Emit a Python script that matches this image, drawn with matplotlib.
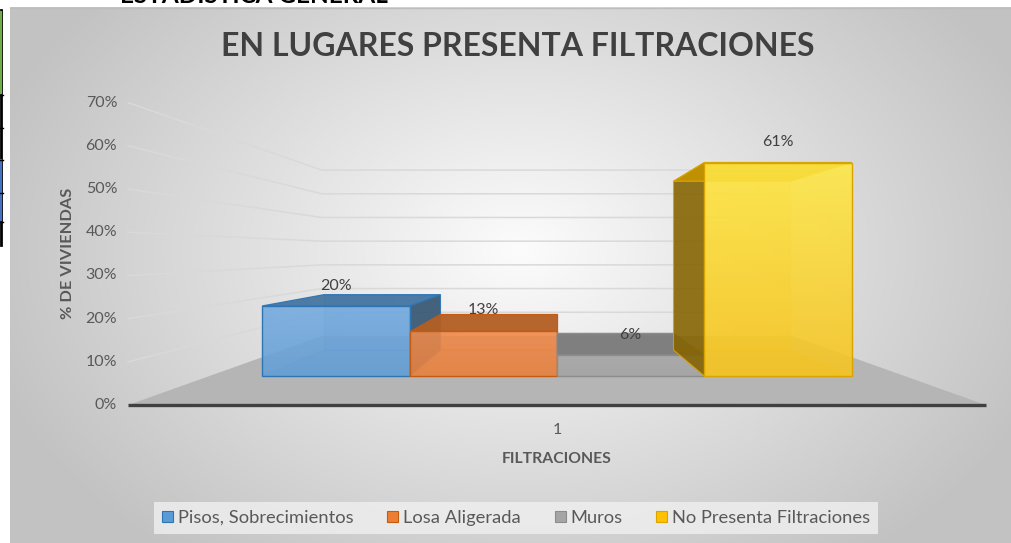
import numpy as np
import matplotlib
matplotlib.use("Agg")
import matplotlib.pyplot as plt
from matplotlib.patches import Polygon, Patch
from matplotlib.colors import to_rgb

# ---------------- data ----------------
title = "EN LUGARES PRESENTA FILTRACIONES"
header = "ESTADISTICA GENERAL"
series = ["Pisos, Sobrecimientos", "Losa Aligerada", "Muros", "No Presenta Filtraciones"]
values = [20, 13, 6, 61]          # % de viviendas
value_labels = ["20%", "13%", "6%", "61%"]
categories = ["1"]
y_ticks = [0, 10, 20, 30, 40, 50, 60, 70]
x_title = "FILTRACIONES"
y_title = "% DE VIVIENDAS"
colors = ["#5B9BD5", "#ED7D31", "#A5A5A5", "#FFC000"]
front_top = ["#73AADF", "#F08C4E", "#ABABAB", "#FFE845"]
front_bottom = ["#649FD6", "#E9823F", "#A5A5A5", "#F7C520"]
edge_colors = ["#2E75B6", "#C55A11", "#8C8C8C", "#D9A400"]

FONT = ["Lato", "DejaVu Sans"]
plt.rcParams["font.family"] = FONT
TXT = "#595959"

# ---------------- perspective set-up (pixel canvas) ----------------
W, H = 1012, 543
fig = plt.figure(figsize=(W / 100, H / 100), dpi=100)
ax = fig.add_axes([0, 0, 1, 1])
ax.set_xlim(0, W)
ax.set_ylim(H, 0)
ax.axis("off")

XV, YV = 557.0, 252.0      # vanishing point
Y0 = 376.0                 # baseline of bar front plane
KPX = 3.5                  # px per % on the bar front plane
U = 695.0                  # px per category unit on the bar front plane
S_FLOOR, S_FRONT, S_BACK, S_WALL = 1.234, 1.0, 0.79, 0.677


def P(c, v, s):
    """project (category position, value, depth scale) to canvas"""
    return (XV + s * (c - 1.0) * U, YV + s * (Y0 - KPX * v - YV))


# ---------------- background ----------------
yy, xx = np.mgrid[7:H, 10:W]
r = np.sqrt(((xx - 520) / 560.0) ** 2 + ((yy - 250) / 390.0) ** 2)
g = 252 - 58 * np.clip(r, 0, 1.0)
bg = np.dstack([g, g, g]) / 255.0
ax.imshow(bg, extent=[10, W, H, 7], zorder=0, interpolation="bilinear", aspect="auto")
ax.plot([10, W], [7.5, 7.5], color="#bdbdbd", lw=1, zorder=1)

# fragments of the surrounding document
ax.text(120, 3, header, fontsize=17.5, fontweight="bold", color="black", va="baseline",
        ha="left", zorder=5)
ax.plot([1.5, 1.5], [10, 245], color="black", lw=2, zorder=5)
ax.plot([1.5, 1.5], [12, 93], color="#70AD47", lw=1.5, zorder=6)
ax.plot([1.5, 1.5], [160, 220], color="#4472C4", lw=1.5, zorder=6)
for yh in [95, 128, 160, 193, 222]:
    ax.plot([0, 3], [yh, yh], color="black", lw=1, zorder=6)

# ---------------- floor & walls ----------------
cat_lo, cat_hi = 0.5, 1.5
floor = [P(cat_lo, 0, S_FLOOR), P(cat_hi, 0, S_FLOOR), P(cat_hi, 0, S_WALL), P(cat_lo, 0, S_WALL)]
ax.add_patch(Polygon(floor, closed=True, facecolor="#b5b5b5", edgecolor="none", zorder=2))
fx0, fy0 = P(cat_lo, 0, S_FLOOR)
fx1, fy1 = P(cat_hi, 0, S_FLOOR)
ax.plot([fx0, fx1], [fy0, fy1], color="#404040", lw=2.4, solid_capstyle="butt", zorder=3)

for v in y_ticks[1:]:
    a = P(cat_lo, v, S_FLOOR)
    b = P(cat_lo, v, S_WALL)
    c = P(cat_hi, v, S_WALL)
    ax.plot([a[0], b[0], c[0]], [a[1], b[1], c[1]], color="#d9d9d9", lw=1.1, zorder=2)
for v in y_ticks:
    x, y = P(cat_lo, v, S_FLOOR)
    ax.text(x - 11, y, f"{v}%", ha="right", va="center", fontsize=11.5, color=TXT, zorder=5)

# ---------------- bars ----------------
bw = 0.2122


def shade(col, f):
    rgb = np.array(to_rgb(col))
    return tuple(np.clip(rgb * f, 0, 1))


for i, (val, col, ec) in enumerate(zip(values, colors, edge_colors)):
    cl = 1.0 + (i - 2) * bw
    cr = cl + bw
    z = 4 + i
    # hidden faces (seen through transparency)
    back = [P(cl, 0, S_BACK), P(cr, 0, S_BACK), P(cr, val, S_BACK), P(cl, val, S_BACK)]
    bottom = [P(cl, 0, S_FRONT), P(cr, 0, S_FRONT), P(cr, 0, S_BACK), P(cl, 0, S_BACK)]
    ax.add_patch(Polygon(back, closed=True, facecolor=shade(col, 0.9), alpha=0.25,
                         edgecolor=ec, lw=0.8, zorder=z))
    ax.add_patch(Polygon(bottom, closed=True, facecolor=shade(col, 0.8), alpha=0.25,
                         edgecolor=ec, lw=0.8, zorder=z))
    # visible side face
    if cr < 1.0 - 1e-6:
        cs = cr
    elif cl > 1.0 + 1e-6:
        cs = cl
    else:
        cs = None
    if cs is not None:
        side = [P(cs, 0, S_FRONT), P(cs, val, S_FRONT), P(cs, val, S_BACK), P(cs, 0, S_BACK)]
        ax.add_patch(Polygon(side, closed=True, facecolor=shade(col, 0.5), alpha=0.85,
                             edgecolor=ec, lw=0.8, zorder=z + 0.1))
    top = [P(cl, val, S_FRONT), P(cr, val, S_FRONT), P(cr, val, S_BACK), P(cl, val, S_BACK)]
    ax.add_patch(Polygon(top, closed=True, facecolor=shade(col, 0.76), alpha=0.95,
                         edgecolor=ec, lw=0.9, zorder=z + 0.2))
    # front face with a soft vertical gradient
    x0, yb = P(cl, 0, S_FRONT)
    x1, yt = P(cr, val, S_FRONT)
    c_top = np.array(to_rgb(front_top[i]))
    c_bot = np.array(to_rgb(front_bottom[i]))
    t = np.linspace(0, 1, 64)[:, None]
    grad = c_top[None, :] * (1 - t) + c_bot[None, :] * t
    img = np.repeat(grad[:, None, :], 4, axis=1)
    im = ax.imshow(img, extent=[x0, x1, yb, yt], aspect="auto", alpha=0.88,
                   zorder=z + 0.3, interpolation="bilinear")
    front = Polygon([(x0, yb), (x1, yb), (x1, yt), (x0, yt)], closed=True,
                    facecolor="none", edgecolor=ec, lw=1.0, zorder=z + 0.4)
    ax.add_patch(front)
    im.set_clip_path(front)
    # data label
    lx, ly = P((cl + cr) / 2, val, S_FRONT)
    ax.text(lx, ly - 20, value_labels[i], ha="center", va="center", fontsize=11.5,
            color="#404040", zorder=20)

# ---------------- texts ----------------
ax.text(518, 47, title, ha="center", va="center", fontsize=23, fontweight="bold",
        color="#404040", zorder=20)
cx, cy = P(1.0, 0, S_FLOOR)
ax.text(cx, cy + 25, categories[0], ha="center", va="center", fontsize=11.5, color=TXT, zorder=20)
ax.text(cx, cy + 54, x_title, ha="center", va="center", fontsize=11.3, fontweight="bold",
        color=TXT, zorder=20)
ax.text(68, 253, y_title, ha="center", va="center", rotation=90, fontsize=11.8,
        fontweight="bold", color=TXT, zorder=20)

handles = [Patch(facecolor=c, edgecolor=e, lw=0.8) for c, e in zip(colors, edge_colors)]
leg = fig.legend(handles, series, ncol=4, loc="center", bbox_to_anchor=(516 / W, 1 - 518 / H),
                 fontsize=13.2, frameon=True, fancybox=False, handlelength=0.6, handleheight=0.6,
                 handletextpad=0.25, columnspacing=1.85, borderpad=0.45, labelcolor=TXT)
leg.get_frame().set_facecolor("#f0f0f0")
leg.get_frame().set_edgecolor("none")
leg.get_frame().set_alpha(0.8)

fig.savefig("out.png", dpi=100)
